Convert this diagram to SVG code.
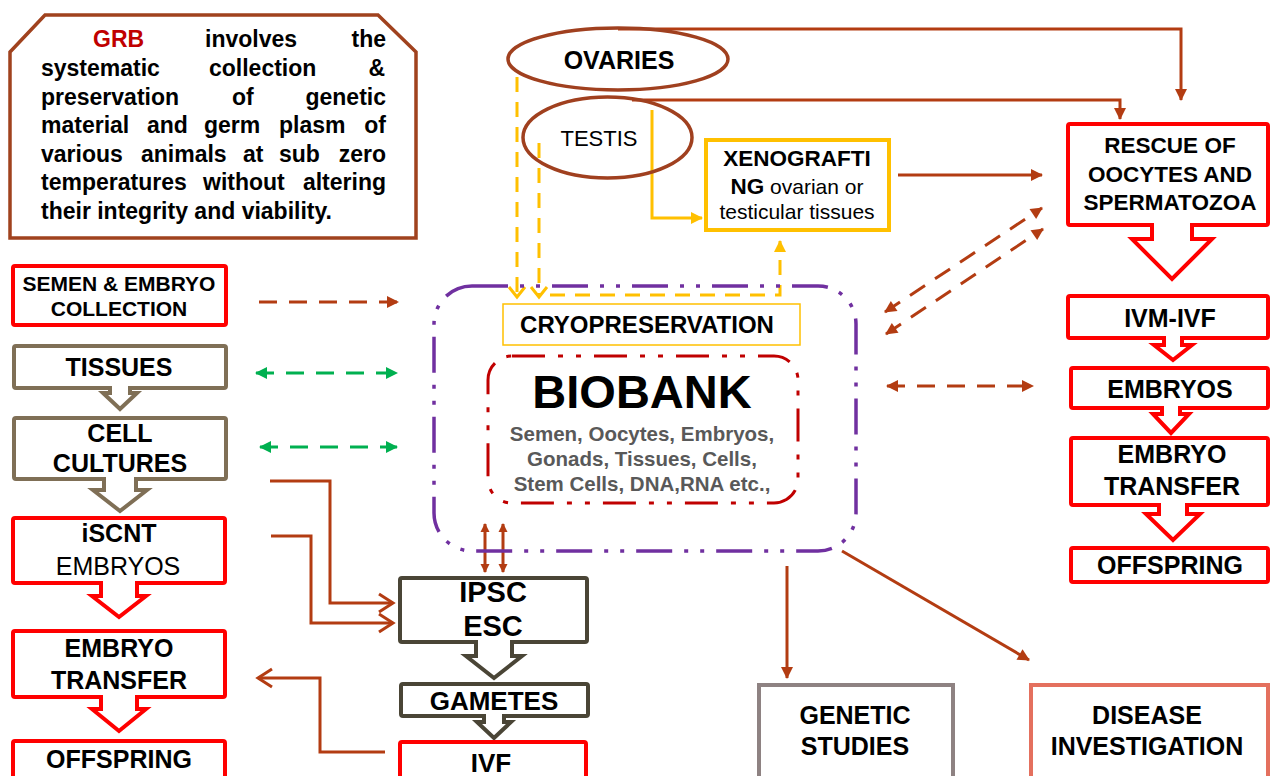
<svg xmlns="http://www.w3.org/2000/svg" width="1271" height="776" viewBox="0 0 1271 776">
<style>
text{font-family:"Liberation Sans",Arial,sans-serif;fill:#000}
.b{font-weight:bold}
.c{text-anchor:middle}
.e{text-anchor:end}
.lbl{font-weight:bold;font-size:25px;text-anchor:middle}
.red{fill:#fff;stroke:#FF0000;stroke-width:4}
.gb{fill:#fff;stroke:#7F6F56;stroke-width:4}
.dk{fill:#fff;stroke:#4A4536;stroke-width:4}
.br{fill:none;stroke:#B33C12;stroke-width:3}
.brd{fill:none;stroke:#B33C12;stroke-width:3;stroke-dasharray:18 12}
.gr{fill:none;stroke:#00B050;stroke-width:3;stroke-dasharray:18 12}
.yd{fill:none;stroke:#FFC000;stroke-width:3;stroke-dasharray:15 10}
.ys{fill:none;stroke:#FFC000;stroke-width:3}
.ba-red{fill:#fff;stroke:#FF0000;stroke-width:4}
.ba-gb{fill:#fff;stroke:#7F6F56;stroke-width:4}
.ba-dk{fill:#fff;stroke:#4A4536;stroke-width:4}
.gp{font-size:23px;font-weight:bold}
</style>
<defs>
<marker id="ab" viewBox="0 0 12 12" refX="11" refY="6" markerWidth="12" markerHeight="12" markerUnits="userSpaceOnUse" orient="auto-start-reverse" overflow="visible"><path d="M0,0 L12,6 L0,12 z" fill="#B33C12"/></marker>
<marker id="abs" viewBox="0 0 9 9" refX="8" refY="4.5" markerWidth="9" markerHeight="9" markerUnits="userSpaceOnUse" orient="auto-start-reverse" overflow="visible"><path d="M0,0 L9,4.5 L0,9 z" fill="#B33C12"/></marker>
<marker id="ag" viewBox="0 0 12 12" refX="11" refY="6" markerWidth="12" markerHeight="12" markerUnits="userSpaceOnUse" orient="auto-start-reverse" overflow="visible"><path d="M0,0 L12,6 L0,12 z" fill="#00B050"/></marker>
<marker id="ay" viewBox="0 0 12 12" refX="11" refY="6" markerWidth="12" markerHeight="12" markerUnits="userSpaceOnUse" orient="auto" overflow="visible"><path d="M0,0 L12,6 L0,12 z" fill="#FFC000"/></marker>
<marker id="ov" viewBox="0 0 16 20" refX="15" refY="10" markerWidth="16" markerHeight="20" markerUnits="userSpaceOnUse" orient="auto" overflow="visible"><path d="M1,1 L15,10 L1,19" fill="none" stroke="#B33C12" stroke-width="3"/></marker>
<marker id="oy" viewBox="0 0 12 18" refX="11" refY="9" markerWidth="12" markerHeight="18" markerUnits="userSpaceOnUse" orient="auto" overflow="visible"><path d="M1,1 L11,9 L1,17" fill="none" stroke="#FFC000" stroke-width="3"/></marker>
</defs>
<rect width="1271" height="776" fill="#fff"/>

<g id="grb-note">
<path d="M45,15 H378 L416,52 V238 H10 V52 Z" fill="#fff" stroke="#A0421E" stroke-width="3.5"/>
<text class="gp" y="47"><tspan x="93" fill="#C00000">GRB</tspan><tspan x="205">involves</tspan></text>
<text class="gp e" x="386" y="47">the</text>
<text class="gp" y="76"><tspan x="41">systematic</tspan><tspan x="209">collection</tspan></text>
<text class="gp e" x="385" y="76">&amp;</text>
<text class="gp" y="104.5"><tspan x="41">preservation</tspan><tspan x="232">of</tspan></text>
<text class="gp e" x="386" y="104.5">genetic</text>
<text class="gp" y="133"><tspan x="41">material</tspan><tspan x="147">and</tspan><tspan x="204">germ</tspan><tspan x="279">plasm</tspan></text>
<text class="gp e" x="386" y="133">of</text>
<text class="gp" y="161.5"><tspan x="41">various</tspan><tspan x="141">animals</tspan><tspan x="243">at</tspan><tspan x="279">sub</tspan></text>
<text class="gp e" x="386" y="161.5">zero</text>
<text class="gp" y="190"><tspan x="41">temperatures</tspan><tspan x="203">without</tspan></text>
<text class="gp e" x="386" y="190">altering</text>
<text class="gp" x="41" y="218.5">their integrity and viability.</text>
</g>

<g id="connectors">
<path class="br" d="M618,29 H1181 V100" marker-end="url(#ab)"/>
<path class="br" d="M632,100 H1120 V119" marker-end="url(#ab)"/>
<path class="ys" d="M652,110 V218 H702" marker-end="url(#ay)"/>
<path class="yd" d="M517,77 V297" marker-end="url(#oy)"/>
<path class="yd" d="M539,143 V297" marker-end="url(#oy)"/>
<path class="yd" d="M550,295 H780 V241" marker-end="url(#ay)"/>
<path class="br" d="M898,175 H1042" marker-end="url(#ab)"/>
<path class="brd" d="M885,312 L1042,208" marker-start="url(#ab)" marker-end="url(#ab)"/>
<path class="brd" d="M886,334 L1043,229" marker-start="url(#ab)" marker-end="url(#ab)"/>
<path class="brd" d="M887,386 H1033" marker-start="url(#ab)" marker-end="url(#ab)"/>
<path class="brd" d="M259,302 H398" marker-end="url(#ab)"/>
<path class="gr" d="M256,373 H397" marker-start="url(#ag)" marker-end="url(#ag)"/>
<path class="gr" d="M260,447 H397" marker-start="url(#ag)" marker-end="url(#ag)"/>
<path class="br" d="M270,481 H330 V603 H393" marker-end="url(#ov)"/>
<path class="br" d="M271,536 H311 V623 H393" marker-end="url(#ov)"/>
<path class="br" d="M385,752 H320 V678 H258" marker-end="url(#ov)"/>
<path class="br" d="M485,524 V572" stroke-width="2.5" marker-start="url(#abs)" marker-end="url(#abs)"/>
<path class="br" d="M503,524 V572" stroke-width="2.5" marker-start="url(#abs)" marker-end="url(#abs)"/>
<path class="br" d="M787,566 V678" marker-end="url(#ab)"/>
<path class="br" d="M842,551 L1029,660" marker-end="url(#ab)"/>
</g>

<g id="ovaries">
<ellipse cx="618" cy="59" rx="110" ry="31" fill="none" stroke="#A0401F" stroke-width="3.5"/>
<text class="b c" x="619" y="69" font-size="25">OVARIES</text>
</g>
<g id="testis">
<ellipse cx="607.5" cy="137.5" rx="84.5" ry="40.5" fill="none" stroke="#A0401F" stroke-width="3.5"/>
<text class="c" x="599" y="146" font-size="22">TESTIS</text>
</g>

<g id="xenografting">
<rect x="706" y="140" width="183" height="90" fill="#fff" stroke="#FFC000" stroke-width="4"/>
<text class="b c" x="797" y="166" font-size="22.5">XENOGRAFTI</text>
<text class="c" x="797" y="194" font-size="21"><tspan font-weight="bold" font-size="22.5">NG</tspan> ovarian or</text>
<text class="c" x="797" y="219" font-size="21">testicular tissues</text>
</g>

<g id="biobank">
<rect x="434" y="286" width="422" height="265" rx="38" fill="none" stroke="#7030A0" stroke-width="3.5" stroke-dasharray="36 12 4 12 4 12"/>
<rect x="488" y="356" width="310" height="147" rx="24" fill="none" stroke="#C00000" stroke-width="3" stroke-dasharray="33 13 5 13 5 13"/>
<text class="b c" x="642" y="408" font-size="47">BIOBANK</text>
<text class="b c" x="642" y="441" font-size="20.5" style="fill:#595959">Semen, Oocytes, Embryos,</text>
<text class="b c" x="642" y="466" font-size="20.5" style="fill:#595959">Gonads, Tissues, Cells,</text>
<text class="b c" x="642" y="491" font-size="20.5" style="fill:#595959">Stem Cells, DNA,RNA etc.,</text>
</g>
<g id="cryopreservation">
<rect x="503" y="304" width="297" height="41" fill="#fff" stroke="#FFC000" stroke-width="1.5"/>
<text class="b c" x="647" y="333" font-size="24">CRYOPRESERVATION</text>
</g>

<g id="semen-embryo-collection">
<rect class="red" x="13" y="266" width="213" height="59" rx="2"/>
<text class="b c" x="119" y="291" font-size="21">SEMEN &amp; EMBRYO</text>
<text class="b c" x="119" y="316" font-size="21">COLLECTION</text>
</g>
<g id="tissues">
<rect class="gb" x="14" y="346" width="212" height="42" rx="2"/>
<text class="lbl" x="119" y="376">TISSUES</text>
<path class="ba-gb" d="M110,386 V393 H103 L120,409 L137,393 H130 V386"/>
</g>
<g id="cell-cultures">
<rect class="gb" x="14" y="418" width="212" height="61" rx="2"/>
<text class="lbl" x="120" y="442">CELL</text>
<text class="lbl" x="120" y="472">CULTURES</text>
<path class="ba-gb" d="M104,477 V490 H93 L120,511 L147,490 H136 V477"/>
</g>
<g id="iscnt-embryos">
<rect class="red" x="13" y="518" width="212" height="65" rx="2"/>
<text class="lbl" x="119" y="542">iSCNT</text>
<text class="c" x="118" y="575" font-size="25">EMBRYOS</text>
<path class="ba-red" d="M101,581 V596 H92 L119,617 L146,596 H137 V581"/>
</g>
<g id="embryo-transfer-left">
<rect class="red" x="13" y="631" width="212" height="66" rx="2"/>
<text class="lbl" x="119" y="657">EMBRYO</text>
<text class="lbl" x="119" y="689">TRANSFER</text>
<path class="ba-red" d="M101,695 V709 H92 L119,731 L146,709 H137 V695"/>
</g>
<g id="offspring-left">
<rect class="red" x="13" y="741" width="212" height="50" rx="2"/>
<text class="lbl" x="119" y="768">OFFSPRING</text>
</g>

<g id="ipsc-esc">
<rect class="dk" x="400" y="578" width="187" height="64" rx="2"/>
<text class="b c" x="493" y="602" font-size="29">IPSC</text>
<text class="b c" x="493" y="636" font-size="29">ESC</text>
<path class="ba-dk" d="M476,640 V656 H466 L494,678 L522,656 H512 V640"/>
</g>
<g id="gametes">
<rect class="dk" x="401" y="684" width="187" height="32" rx="2"/>
<text class="b c" x="494" y="710" font-size="26">GAMETES</text>
<path class="ba-dk" d="M484,714 V722 H477 L494,738 L511,722 H504 V714"/>
</g>
<g id="ivf">
<rect class="red" x="400" y="742" width="186" height="50" rx="2"/>
<text class="b c" x="491" y="772" font-size="26">IVF</text>
</g>

<g id="rescue">
<rect class="red" x="1068" y="124" width="200" height="101" rx="2"/>
<text class="b c" x="1170" y="153" font-size="22.5">RESCUE OF</text>
<text class="b c" x="1170" y="182" font-size="22.5">OOCYTES AND</text>
<text class="b c" x="1170" y="210" font-size="22.5">SPERMATOZOA</text>
<path class="ba-red" d="M1152,223 V239 H1132 L1172,279 L1212,239 H1192 V223"/>
</g>
<g id="ivm-ivf">
<rect class="red" x="1068" y="296" width="200" height="42" rx="2"/>
<text class="b c" x="1170" y="327" font-size="25">IVM-IVF</text>
<path class="ba-red" d="M1164,336 V345 H1154 L1173,360 L1192,345 H1182 V336"/>
</g>
<g id="embryos-right">
<rect class="red" x="1071" y="368" width="197" height="40" rx="2"/>
<text class="lbl" x="1170" y="398">EMBRYOS</text>
<path class="ba-red" d="M1162,406 V414 H1153 L1171,433 L1189,414 H1180 V406"/>
</g>
<g id="embryo-transfer-right">
<rect class="red" x="1071" y="438" width="197" height="67" rx="2"/>
<text class="lbl" x="1172" y="463">EMBRYO</text>
<text class="lbl" x="1172" y="495">TRANSFER</text>
<path class="ba-red" d="M1159,503 V514 H1146 L1173,540 L1200,514 H1187 V503"/>
</g>
<g id="offspring-right">
<rect class="red" x="1071" y="548" width="197" height="34" rx="2"/>
<text class="lbl" x="1170" y="574">OFFSPRING</text>
</g>

<g id="genetic-studies">
<rect x="759" y="685" width="194" height="110" fill="#fff" stroke="#8E8282" stroke-width="4"/>
<text class="lbl" x="855" y="724">GENETIC</text>
<text class="lbl" x="855" y="755">STUDIES</text>
</g>
<g id="disease-investigation">
<rect x="1031" y="685" width="237" height="110" fill="#fff" stroke="#E4705E" stroke-width="4"/>
<text class="lbl" x="1147" y="724">DISEASE</text>
<text class="lbl" x="1147" y="755">INVESTIGATION</text>
</g>
</svg>
